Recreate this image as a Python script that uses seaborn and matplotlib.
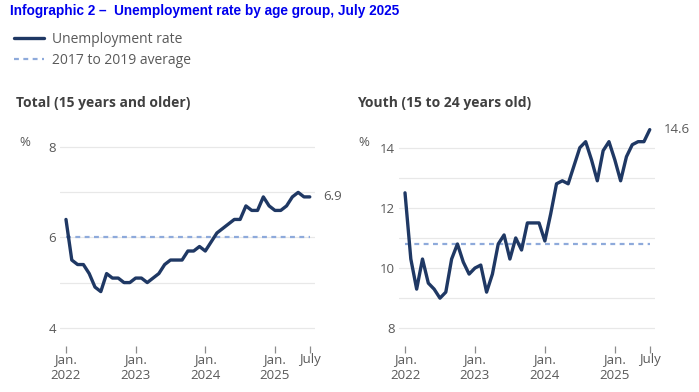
import numpy as np
import pandas as pd
import matplotlib
matplotlib.use("Agg")
import matplotlib.pyplot as plt
from matplotlib.lines import Line2D
import seaborn as sns

# Monthly data, Jan. 2022 to July 2025
months = pd.date_range("2022-01-01", "2025-07-01", freq="MS")

total_rate = [6.4, 5.5, 5.4, 5.4, 5.2, 4.9, 4.8, 5.2, 5.1, 5.1, 5.0, 5.0,
              5.1, 5.1, 5.0, 5.1, 5.2, 5.4, 5.5, 5.5, 5.5, 5.7, 5.7, 5.8,
              5.7, 5.9, 6.1, 6.2, 6.3, 6.4, 6.4, 6.7, 6.6, 6.6, 6.9, 6.7,
              6.6, 6.6, 6.7, 6.9, 7.0, 6.9, 6.9]
youth_rate = [12.5, 10.3, 9.3, 10.3, 9.5, 9.3, 9.0, 9.2, 10.3, 10.8, 10.2, 9.8,
              10.0, 10.1, 9.2, 9.8, 10.8, 11.1, 10.3, 11.0, 10.6, 11.5, 11.5, 11.5,
              10.9, 11.8, 12.8, 12.9, 12.8, 13.4, 14.0, 14.2, 13.6, 12.9, 13.9, 14.2,
              13.6, 12.9, 13.7, 14.1, 14.2, 14.2, 14.6]
total_avg = 6.0
youth_avg = 10.8

tick_months = [0, 12, 24, 36, 42]
tick_labels = ["Jan.\n2022", "Jan.\n2023", "Jan.\n2024", "Jan.\n2025", "July"]

NAVY = "#1f3864"
DOTS = "#8eaadb"
GREY = "#595959"
DARK = "#404040"

sns.set_theme(style="white")
plt.rcParams["font.family"] = ["Open Sans", "DejaVu Sans"]

W, H = 699, 392
fig = plt.figure(figsize=(W / 100, H / 100), dpi=100)


def px_axes(x0, x1, y0, y1):
    # pixel box -> figure coords
    return fig.add_axes([x0 / W, 1 - y1 / H, (x1 - x0) / W, (y1 - y0) / H])


panels = [
    dict(box=(60, 315, 125, 346), vals=total_rate, avg=total_avg,
         ylim=(3.594, 8.494), yticks=[4, 6, 8], grid=[4, 5, 6, 7, 8],
         title="Total (15 years and older)", title_x=16, pct_x=19),
    dict(box=(399, 655, 125, 346), vals=youth_rate, avg=youth_avg,
         ylim=(7.41, 14.754), yticks=[8, 10, 12, 14], grid=[8, 9, 10, 11, 12, 13, 14],
         title="Youth (15 to 24 years old)", title_x=357, pct_x=358),
]

for p in panels:
    ax = px_axes(*p["box"])
    df = pd.DataFrame({"m": np.arange(len(months)), "rate": p["vals"]})
    for g in p["grid"]:
        ax.axhline(g, color="#e8e8e8", lw=0.9, zorder=0)
    ax.plot([0, len(months) - 1], [p["avg"], p["avg"]], color=DOTS, lw=1.6,
            dashes=(2.2, 2.0), zorder=1)
    sns.lineplot(data=df, x="m", y="rate", color=NAVY, lw=2.4, ax=ax,
                 zorder=2, clip_on=False)
    ax.set_xlim(-1.03, 42.9)
    ax.set_ylim(*p["ylim"])
    ax.set_yticks(p["yticks"])
    ax.set_yticklabels([str(t) for t in p["yticks"]], color=GREY, fontsize=9.5)
    ax.set_xticks(tick_months)
    ax.set_xticklabels(tick_labels, color=GREY, fontsize=9.5, linespacing=1.3)
    ax.tick_params(axis="y", length=0, pad=3)
    ax.tick_params(axis="x", bottom=True, length=5, width=0.9, color="#8c8c8c",
                   pad=0, direction="out")
    ax.set_xlabel("")
    ax.set_ylabel("")
    for s in ax.spines.values():
        s.set_visible(False)
    ax.grid(False)
    last = p["vals"][-1]
    ax.annotate(f"{last}", xy=(len(months) - 1, last), xytext=(10, 0),
                textcoords="offset points", va="center", ha="left",
                color=GREY, fontsize=9.5, annotation_clip=False)
    fig.text(p["title_x"] / W, 1 - 103 / H, p["title"], fontsize=10,
             fontweight="bold", color=DARK, va="center", ha="left")
    fig.text(p["pct_x"] / W, 1 - 142 / H, "%", fontsize=9.5, color=GREY,
             va="center", ha="left")

# chart title
fig.text(10 / W, 1 - 11 / H, "Infographic 2 \u2013  Unemployment rate by age group, July 2025",
         family=["Liberation Sans", "DejaVu Sans"], fontsize=9.8, fontweight="bold",
         color="#0000ee", va="center", ha="left")

# legend
handles = [Line2D([], [], color=NAVY, lw=2.4),
           Line2D([], [], color=DOTS, lw=1.6, dashes=(2.2, 2.0))]
fig.legend(handles, ["Unemployment rate", "2017 to 2019 average"],
           loc="upper left", bbox_to_anchor=(8 / W, 1 - 26 / H), frameon=False,
           fontsize=10, labelcolor=GREY, handlelength=2.2, handletextpad=0.6,
           labelspacing=0.45, borderaxespad=0)

fig.savefig("out.png", dpi=100)
